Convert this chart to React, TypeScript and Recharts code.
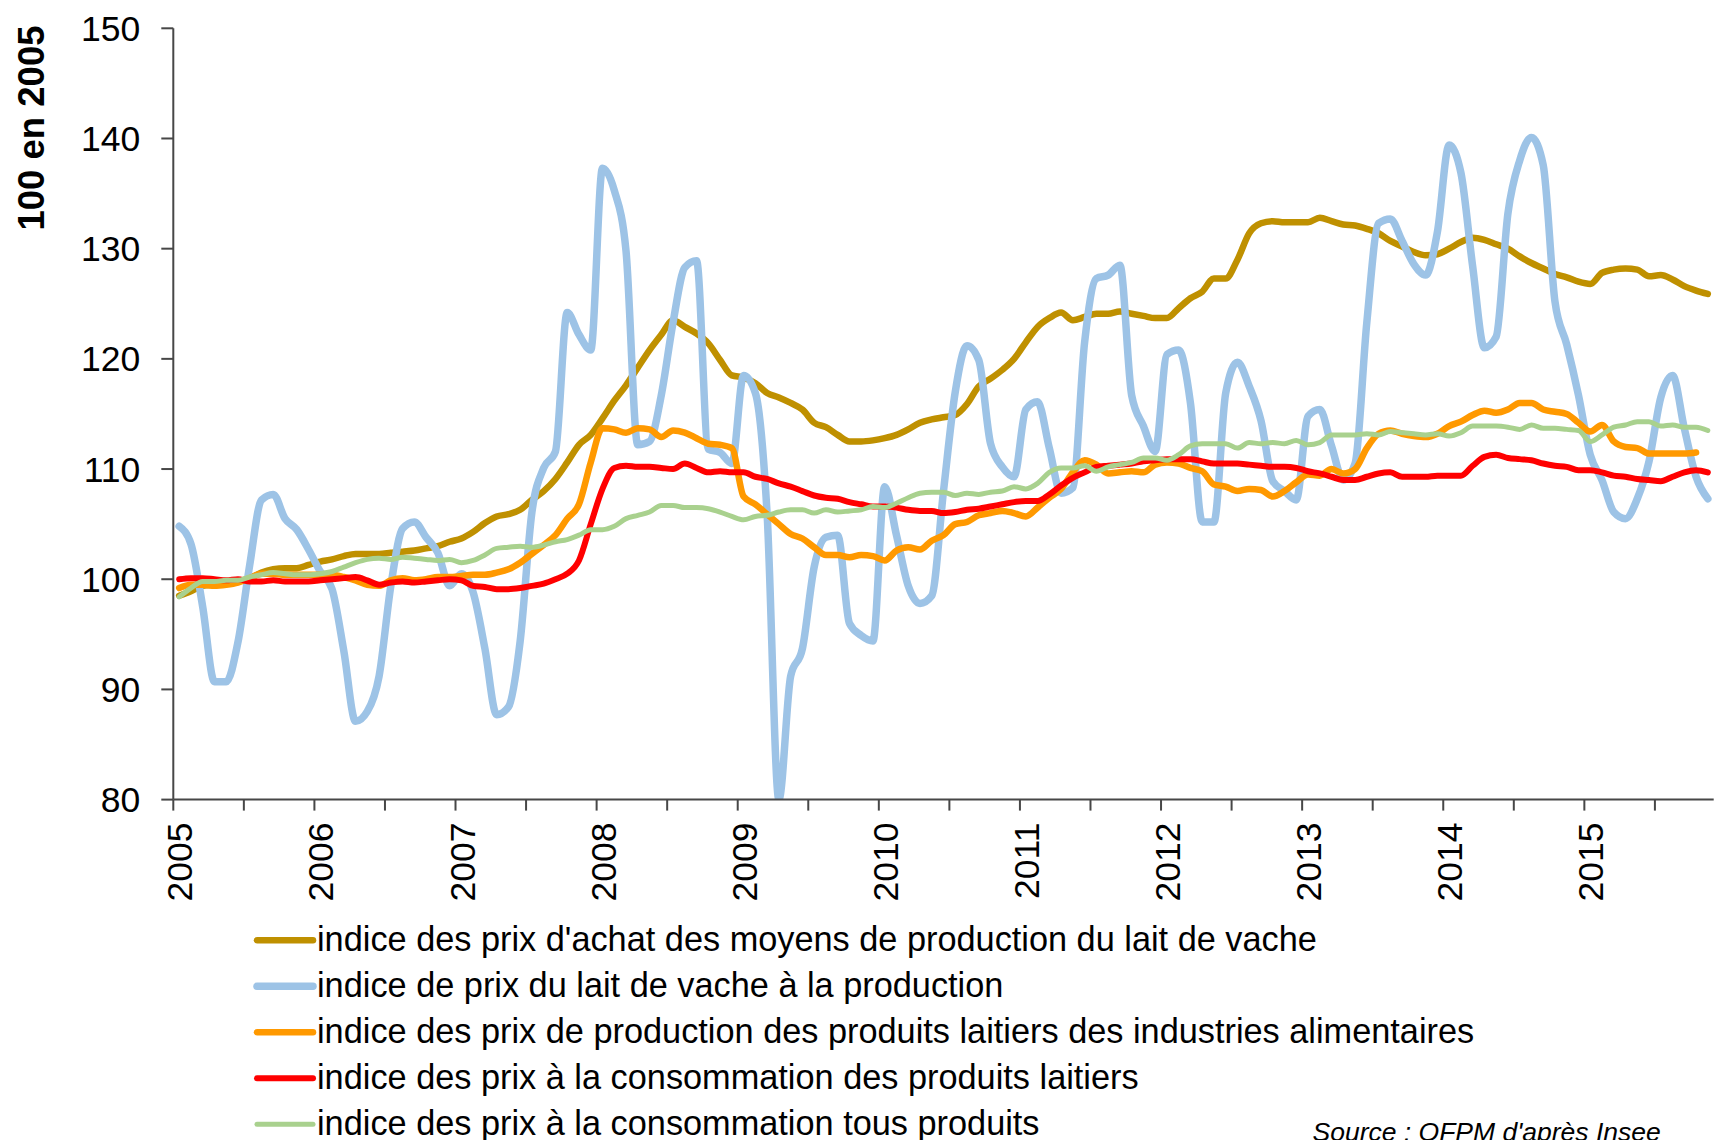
import React from "react";
import { Legend, Line, LineChart, XAxis, YAxis } from "recharts";

// Monthly indices, Jan 2005 onwards (100 = 2005).
const YEARS = ["2005", "2006", "2007", "2008", "2009", "2010", "2011", "2012", "2013", "2014", "2015"];
const Y_TICKS = [80, 90, 100, 110, 120, 130, 140, 150];

const MOYENS = [
  98.5, 98.9, 99.4, 99.5, 99.6, 99.8, 100.1, 100.6, 100.9, 101, 101, 101.3,
  101.6, 101.8, 102.1, 102.3, 102.3, 102.3, 102.4, 102.5, 102.6, 102.8, 103, 103.4,
  103.7, 104.3, 105.1, 105.7, 105.9, 106.3, 107.2, 108, 109.1, 110.6, 112.2, 113.1,
  114.6, 116.2, 117.6, 119.2, 120.8, 122.2, 123.5, 122.9, 122.3, 121.4, 119.9, 118.5,
  118.3, 117.8, 116.9, 116.5, 116, 115.4, 114.2, 113.8, 113.1, 112.5, 112.5, 112.6,
  112.8, 113.1, 113.6, 114.2, 114.5, 114.7, 114.9, 115.9, 117.5, 118.2, 119, 120,
  121.5, 122.9, 123.7, 124.2, 123.5, 123.8, 124.1, 124.1, 124.3, 124.1, 123.9, 123.7,
  123.7, 124.6, 125.5, 126.1, 127.3, 127.3, 129, 131.4, 132.3, 132.5, 132.4, 132.4,
  132.4, 132.8, 132.5, 132.2, 132.1, 131.8, 131.4, 130.7, 130.2, 129.7, 129.4, 129.5,
  130, 130.6, 131, 130.8, 130.4, 130, 129.3, 128.7, 128.2, 127.7, 127.4, 127,
  126.8, 127.8, 128.1, 128.2, 128.1, 127.5, 127.6, 127.2, 126.6, 126.2, 125.9,
];

const LAIT = [
  104.8, 103.2, 97.5, 90.7, 90.7, 94.3, 101.3, 107.2, 107.7, 105.5, 104.5, 102.7,
  100.7, 99.1, 93.5, 87.1, 88, 91.2, 99.4, 104.6, 105.2, 103.8, 102.4, 99.4,
  100.5, 98.8, 93.7, 87.7, 88.4, 94.4, 106.1, 110.1, 111.6, 124.2, 122.2, 120.8,
  137.3, 135.3, 129.8, 112.2, 112.5, 116.7, 123.3, 128.3, 128.9, 111.8, 111.5, 110.5,
  118.5, 116.9, 105.9, 80, 91.2, 93.7, 101.1, 103.8, 104, 96, 94.9, 94.4,
  108.4, 104, 99.4, 97.8, 98.5, 108, 117, 121.2, 119.9, 112.3, 110.2, 109.3,
  115.4, 116.1, 111.9, 107.8, 108.3, 121.5, 127.3, 127.6, 128.5, 116.7, 113.9, 111.6,
  120.4, 120.8, 116, 105.2, 105.2, 116.9, 119.7, 117.5, 114.4, 108.9, 108, 107.2,
  114.8, 115.4, 112.1, 109, 110.5, 123.3, 132.3, 132.7, 130.7, 128.6, 127.6, 131.5,
  139.4, 136.9, 128.4, 121, 122, 133.2, 138, 140.1, 137.6, 125.2, 121.3, 116.7,
  111.3, 109, 106.1, 105.5, 107.3, 110.7, 116.5, 118.5, 113.7, 109.3, 107.3,
];

const PRODUITS = [
  99.2, 99.5, 99.5, 99.4, 99.5, 99.7, 100.1, 100.5, 100.5, 100.4, 100.4, 100.4,
  100.4, 100.4, 100.2, 99.9, 99.5, 99.4, 99.9, 100.1, 99.9, 100, 100.2, 100.2,
  100.3, 100.4, 100.4, 100.6, 100.9, 101.5, 102.3, 103.1, 104, 105.5, 106.8, 110.6,
  113.7, 113.6, 113.3, 113.7, 113.6, 112.9, 113.5, 113.3, 112.8, 112.3, 112.2, 111.9,
  107.5, 106.8, 105.9, 105, 104.1, 103.7, 102.9, 102.2, 102.2, 102, 102.2, 102.1,
  101.7, 102.6, 102.9, 102.7, 103.5, 104, 105, 105.2, 105.8, 106, 106.2, 106,
  105.7, 106.5, 107.4, 108.2, 109.7, 110.8, 110.4, 109.6, 109.7, 109.8, 109.7, 110.4,
  110.6, 110.5, 110.1, 109.8, 108.6, 108.4, 108, 108.2, 108.1, 107.5, 108, 108.8,
  109.5, 109.4, 110, 109.6, 110, 111.9, 113.2, 113.5, 113.2, 113, 112.9, 113.2,
  113.9, 114.3, 114.9, 115.3, 115.1, 115.4, 116, 116, 115.4, 115.2, 115, 114.2,
  113.4, 114, 112.5, 112, 111.9, 111.4, 111.4, 111.4, 111.4, 111.5,
];

const CONSO_LAITIERS = [
  100, 100.1, 100.1, 100, 99.9, 100, 99.8, 99.8, 99.9, 99.8, 99.8, 99.8,
  99.9, 100, 100.1, 100.2, 99.9, 99.5, 99.7, 99.8, 99.7, 99.8, 99.9, 100,
  99.9, 99.4, 99.3, 99.1, 99.1, 99.2, 99.4, 99.6, 100, 100.5, 101.7, 105,
  108.2, 110.1, 110.3, 110.2, 110.2, 110.1, 110, 110.5, 110.1, 109.7, 109.8, 109.7,
  109.7, 109.3, 109.1, 108.7, 108.4, 108, 107.6, 107.4, 107.3, 107, 106.8, 106.6,
  106.6, 106.5, 106.3, 106.2, 106.2, 106, 106.1, 106.3, 106.4, 106.6, 106.8, 107,
  107.1, 107.1, 107.7, 108.5, 109.2, 109.7, 110.2, 110.3, 110.4, 110.5, 110.7, 110.8,
  110.9, 110.9, 110.9, 110.7, 110.5, 110.5, 110.5, 110.4, 110.3, 110.2, 110.2, 110.1,
  109.8, 109.6, 109.3, 109, 109, 109.3, 109.6, 109.7, 109.3, 109.3, 109.3, 109.4,
  109.4, 109.4, 110.3, 111.1, 111.3, 111, 110.9, 110.8, 110.5, 110.3, 110.2, 109.9,
  109.9, 109.7, 109.4, 109.3, 109.1, 109, 108.9, 109.3, 109.7, 109.9, 109.7,
];

const CONSO_TOUS = [
  98.4, 99.2, 99.8, 99.8, 99.9, 99.9, 100.2, 100.4, 100.6, 100.5, 100.4, 100.4,
  100.5, 100.7, 101.1, 101.5, 101.8, 101.9, 101.8, 102, 101.9, 101.8, 101.7, 101.8,
  101.5, 101.7, 102.2, 102.8, 102.9, 103, 102.9, 103.1, 103.4, 103.6, 104, 104.5,
  104.5, 104.8, 105.5, 105.8, 106.1, 106.7, 106.7, 106.5, 106.5, 106.4, 106.1, 105.7,
  105.4, 105.7, 105.8, 106.1, 106.3, 106.3, 106, 106.3, 106.1, 106.2, 106.3, 106.6,
  106.5, 106.9, 107.4, 107.8, 107.9, 107.9, 107.6, 107.8, 107.7, 107.9, 108, 108.4,
  108.2, 108.7, 109.7, 110.1, 110.1, 110.3, 109.8, 110.2, 110.4, 110.6, 111, 111,
  110.8, 111.3, 112.1, 112.3, 112.3, 112.3, 111.9, 112.4, 112.3, 112.4, 112.3, 112.6,
  112.2, 112.4, 113.1, 113.1, 113.1, 113.2, 113.1, 113.4, 113.3, 113.2, 113.1, 113.2,
  113, 113.3, 113.9, 113.9, 113.9, 113.8, 113.6, 114, 113.7, 113.7, 113.6, 113.5,
  112.5, 113.1, 113.8, 114, 114.3, 114.3, 113.9, 114, 113.8, 113.8, 113.5,
];

const SERIES = [
  { key: "moyens", name: "indice des prix d'achat des moyens de production du lait de vache", color: "#BF9000", width: 6.5, values: MOYENS },
  { key: "lait", name: "indice de prix du lait de vache à la production", color: "#9DC3E6", width: 7.5, values: LAIT },
  { key: "produits", name: "indice des prix de production des produits laitiers des industries alimentaires", color: "#FF9900", width: 6.5, values: PRODUITS },
  { key: "consoLait", name: "indice des prix à la consommation des produits laitiers", color: "#FF0000", width: 6, values: CONSO_LAITIERS },
  { key: "consoTous", name: "indice des prix à la consommation tous produits", color: "#A9D18E", width: 5, values: CONSO_TOUS },
];

// one row per month, plotted in the middle of its month slot
const rows = MOYENS.map((_, i) => {
  const row: Record<string, number> = { t: i + 0.5 };
  SERIES.forEach((s) => {
    if (s.values[i] !== undefined) row[s.key] = s.values[i];
  });
  return row;
});

const X_TICKS = YEARS.flatMap((_, i) => [i * 12, i * 12 + 6]);
const AXIS = "#474747";
const FONT = '"Liberation Sans", Arial, sans-serif';

function YearTick({ x, y, payload }: any) {
  const v = payload.value;
  if (v % 12 !== 0) return <g />;
  return (
    <text
      x={x}
      y={y}
      dy={19}
      transform={`rotate(-90 ${x} ${y})`}
      textAnchor="end"
      fontSize={35.5}
      fill="#000"
    >
      {YEARS[v / 12]}
    </text>
  );
}

function AxisTitle() {
  return (
    <text
      x={31}
      y={128}
      transform="rotate(-90 31 128)"
      textAnchor="middle"
      dominantBaseline="central"
      fontSize={36.5}
      fontWeight="bold"
      fill="#000"
    >
      100 en 2005
    </text>
  );
}

// keep the series order (Recharts sorts legend items by name otherwise)
function LegendBlock({ payload }: any) {
  const items = payload || [];
  return (
    <svg width={1719} height={240} style={{ display: "block", overflow: "visible", fontFamily: FONT }}>
      {SERIES.map((s, i) => {
        const entry = items.find((d: any) => d.dataKey === s.key);
        if (!entry) return null;
        const cy = 40.3 + i * 46;
        return (
          <g key={s.key}>
            <line x1={257} x2={313} y1={cy} y2={cy} stroke={entry.color} strokeWidth={s.width} strokeLinecap="round" />
            <text x={317} y={cy + 10.4} fontSize={34.3} fill="#000">
              {entry.value}
            </text>
          </g>
        );
      })}
    </svg>
  );
}

export default function App() {
  return (
    <div style={{ position: "absolute", left: 0, top: 0, width: 1719, height: 1140, background: "#fff", fontFamily: FONT, overflow: "hidden" }}>
      <LineChart width={1719} height={1140} data={rows} margin={{ top: 28.3, right: 5.3, bottom: 220.4, left: 13.3 }}>
        <XAxis
          dataKey="t"
          type="number"
          domain={[0, 131]}
          ticks={X_TICKS}
          interval={0}
          height={120}
          tickSize={11}
          tickMargin={12}
          axisLine={{ stroke: AXIS, strokeWidth: 2 }}
          tickLine={{ stroke: AXIS, strokeWidth: 2 }}
          tick={<YearTick />}
        />
        <YAxis
          domain={[80, 150]}
          ticks={Y_TICKS}
          interval={0}
          allowDataOverflow
          width={160}
          tickSize={12}
          tickMargin={21}
          axisLine={{ stroke: AXIS, strokeWidth: 2 }}
          tickLine={{ stroke: AXIS, strokeWidth: 2 }}
          tick={{ fontSize: 35.5, fill: "#000" }}
          label={<AxisTitle />}
        />
        <Legend
          layout="vertical"
          align="center"
          verticalAlign="middle"
          content={<LegendBlock />}
          wrapperStyle={{ position: "absolute", left: 0, top: 900, width: 1719, height: 240 }}
        />
        {SERIES.map((s) => (
          <Line
            key={s.key}
            type="monotone"
            dataKey={s.key}
            name={s.name}
            stroke={s.color}
            strokeWidth={s.width}
            strokeLinecap="round"
            strokeLinejoin="round"
            dot={false}
            activeDot={false}
            isAnimationActive={false}
          />
        ))}
      </LineChart>
      <svg width={1719} height={1140} style={{ position: "absolute", left: 0, top: 0, pointerEvents: "none" }}>
        <text x={1312.5} y={1140.5} fontSize={26.5} fontStyle="italic" fill="#000" fontFamily={FONT}>
          Source : OFPM d'après Insee
        </text>
      </svg>
    </div>
  );
}
